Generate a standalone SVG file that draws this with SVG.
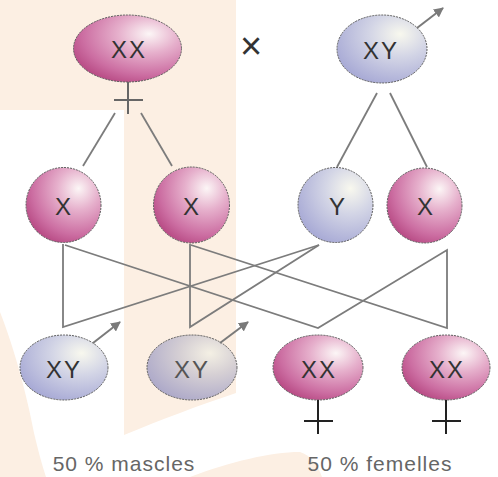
<svg xmlns="http://www.w3.org/2000/svg" width="498" height="477" viewBox="0 0 498 477">
<defs>
<radialGradient id="pink" cx="0.68" cy="0.3" r="0.8" fx="0.7" fy="0.28">
<stop offset="0" stop-color="#fcf6f6"/>
<stop offset="0.35" stop-color="#e6b0cc"/>
<stop offset="0.75" stop-color="#cc6ea2"/>
<stop offset="1" stop-color="#b4447f"/>
</radialGradient>
<radialGradient id="blue" cx="0.68" cy="0.3" r="0.8" fx="0.7" fy="0.28">
<stop offset="0" stop-color="#f8f8ee"/>
<stop offset="0.4" stop-color="#d4d6e6"/>
<stop offset="1" stop-color="#a4a6d4"/>
</radialGradient>
<radialGradient id="grey" cx="0.68" cy="0.3" r="0.8" fx="0.7" fy="0.28">
<stop offset="0" stop-color="#f4f0e4"/>
<stop offset="0.4" stop-color="#d6d0d4"/>
<stop offset="1" stop-color="#aaa6c8"/>
</radialGradient>
<marker id="arr" viewBox="0 0 10 10" refX="9" refY="5" markerWidth="5" markerHeight="5" orient="auto" markerUnits="strokeWidth">
<path d="M0,0 L10,5 L0,10 Z" fill="#7a7a7a"/>
</marker>
<style>
.ov{stroke:#5a5a5a;stroke-width:1;stroke-dasharray:2 1}
.pk{fill:url(#pink)}
.bl{fill:url(#blue)}
.gr{fill:url(#grey)}
.lbl{font-family:"Liberation Sans",Arial,sans-serif;font-size:24px;fill:#333;text-anchor:middle;letter-spacing:2px}
.cap{font-family:"Liberation Sans",Arial,sans-serif;font-size:21px;fill:#666;text-anchor:middle;letter-spacing:1px}
.ln{stroke:#7c7c7c;stroke-width:1.8;fill:none}
.male{stroke:#7a7a7a;stroke-width:2;fill:none}
.fem{stroke:#222;stroke-width:2;fill:none}
</style>
</defs>
<rect width="498" height="477" fill="#ffffff"/>
<g id="background" fill="#fcefe3">
<path d="M0,0 H236 V393 C200,405 160,420 124,435 V110 H0 Z"/>
<path d="M0,312 C15,350 28,400 34,433 C38,450 42,465 46,477 H0 Z"/>
<path d="M190,477 C230,462 270,452 300,452 C312,456 318,466 322,477 Z"/>
</g>
<g id="connectors">
<line class="ln" x1="115" y1="113" x2="83" y2="166"/>
<line class="ln" x1="141" y1="113" x2="172" y2="166"/>
<line class="ln" x1="377" y1="93" x2="337" y2="167"/>
<line class="ln" x1="390" y1="93" x2="427" y2="167"/>
<polyline class="ln" points="63,244 63,327 319,245"/>
<polyline class="ln" points="190,244 190,327 319,245"/>
<polyline class="ln" points="65,245 318,328 447,250 447,328 191,245"/>
</g>
<g id="cross"><text x="251" y="59" font-family="Liberation Sans,Arial,sans-serif" font-size="38" fill="#333" text-anchor="middle">×</text></g>
<g id="mother">
<ellipse class="ov pk" cx="127.5" cy="48.5" rx="54" ry="33.5"/>
<text class="lbl" x="129" y="58">XX</text>
<path d="M128,82 V114 M114,100 H143" stroke="#666" stroke-width="2" fill="none"/>
</g>
<g id="father">
<ellipse class="ov bl" cx="382" cy="49" rx="45" ry="34"/>
<text class="lbl" x="381" y="59">XY</text>
<line class="male" x1="417" y1="28" x2="443" y2="8" marker-end="url(#arr)"/>
</g>
<g id="gamete-x1"><circle class="ov pk" cx="63.5" cy="205" r="37.5"/><text class="lbl" x="64" y="215">X</text></g>
<g id="gamete-x2"><circle class="ov pk" cx="191.5" cy="205" r="38"/><text class="lbl" x="192" y="215">X</text></g>
<g id="gamete-y"><circle class="ov bl" cx="335.5" cy="205" r="37.5"/><text class="lbl" x="338" y="215">Y</text></g>
<g id="gamete-x3"><circle class="ov pk" cx="424.5" cy="205.5" r="37.5"/><text class="lbl" x="426" y="215">X</text></g>
<g id="son1">
<ellipse class="ov bl" cx="64" cy="367.5" rx="44" ry="32.5"/>
<text class="lbl" x="64" y="378">XY</text>
<line class="male" x1="93" y1="343" x2="120" y2="322" marker-end="url(#arr)"/>
</g>
<g id="son2">
<ellipse class="ov gr" cx="192" cy="367.5" rx="45" ry="32.5"/>
<text class="lbl" x="192" y="378" style="fill:#555">XY</text>
<line class="male" x1="220" y1="343" x2="248" y2="322" marker-end="url(#arr)"/>
</g>
<g id="daughter1">
<ellipse class="ov pk" cx="318" cy="367.5" rx="45" ry="32.5"/>
<text class="lbl" x="319" y="378">XX</text>
<path class="fem" d="M318,400 V434 M304,421 H333"/>
</g>
<g id="daughter2">
<ellipse class="ov pk" cx="446" cy="367.5" rx="44" ry="32.5"/>
<text class="lbl" x="447" y="378">XX</text>
<path class="fem" d="M446,400 V434 M432,421 H461"/>
</g>
<g id="captions">
<text class="cap" x="124" y="471">50 % mascles</text>
<text class="cap" x="380" y="471">50 % femelles</text>
</g>
</svg>
